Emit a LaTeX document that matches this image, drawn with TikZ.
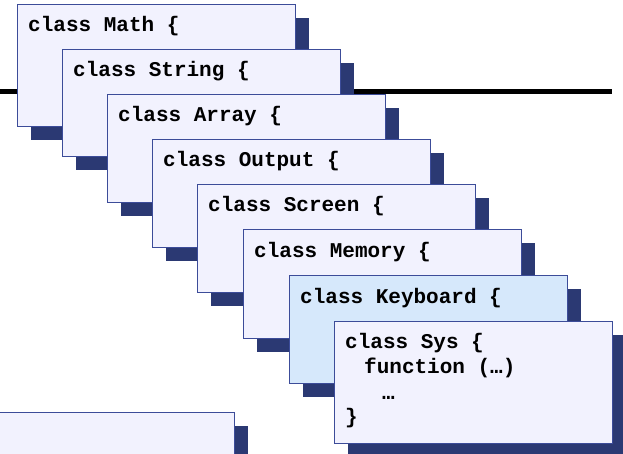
\documentclass[tikz,border=0pt]{standalone}
\usepackage{fontspec}
\setmonofont{Liberation Mono}
\usetikzlibrary{shadows}
\definecolor{cardfill}{HTML}{F2F2FE}
\definecolor{keyfill}{HTML}{D6E8FB}
\definecolor{cardline}{HTML}{3C4C99}
\definecolor{shade}{HTML}{2B3973}

\begin{document}
\begin{tikzpicture}[x=1pt, y=-1pt,
  card/.style={draw=cardline, fill=cardfill, line width=1.2pt, anchor=north west,
    inner sep=0pt, minimum width=278pt, minimum height=108pt,
    drop shadow={shadow xshift=13.5pt, shadow yshift=-13.5pt, fill=shade, opacity=1}},
  tall/.style={minimum height=122pt},
  code/.style={anchor=base west, inner sep=0pt,
    font=\ttfamily\bfseries\fontsize{21}{25}\selectfont}]
 \useasboundingbox (0,0) rectangle (623,454);
 \clip (0,0) rectangle (623,454);
 % rule behind the stack
 \coordinate (rulestart) at (0,92);
 \coordinate (ruleend) at (612,92);
 \draw[line width=5pt] (rulestart) -- (ruleend);
 % card at the bottom left
 \node[card] (lib) at (-44,412) {};
 % the stack of classes
 \node[card, tall] (math) at (17,4) {};
 \node[code] (mathtext) at ([shift={(11,28)}]math.north west) {class Math \{};
 \node[card, minimum height=107pt] (string) at (62,49) {};
 \node[code] (stringtext) at ([shift={(11,28)}]string.north west) {class String \{};
 \node[card] (array) at (107,94) {};
 \node[code] (arraytext) at ([shift={(11,28)}]array.north west) {class Array \{};
 \node[card] (output) at (152,139) {};
 \node[code] (outputtext) at ([shift={(11,28)}]output.north west) {class Output \{};
 \node[card] (screen) at (197,184) {};
 \node[code] (screentext) at ([shift={(11,28)}]screen.north west) {class Screen \{};
 \node[card, minimum height=109pt] (memory) at (243,229) {};
 \node[code] (memorytext) at ([shift={(11,28)}]memory.north west) {class Memory \{};
 \node[card, fill=keyfill] (keyboard) at (289,275) {};
 \node[code] (keyboardtext) at ([shift={(11,28)}]keyboard.north west) {class Keyboard \{};
 \node[card, tall] (sys) at (334,321) {};
 \node[code] (systext) at ([shift={(11,27)}]sys.north west) {class Sys \{};
 \node[code] (sysfunc) at ([shift={(30,52)}]sys.north west) {function (…)};
 \node[code] (sysdots) at ([shift={(48,78)}]sys.north west) {…};
 \node[code] (sysend) at ([shift={(11,102)}]sys.north west) {\}};
\end{tikzpicture}
\end{document}
